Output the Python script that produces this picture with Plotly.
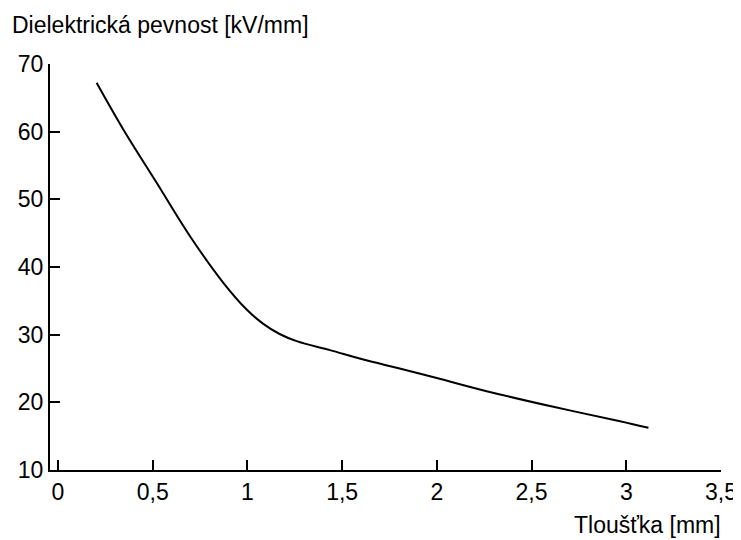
import plotly.graph_objects as go

# tloušťka [mm] a dielektrická pevnost [kV/mm]
thickness = [0.204, 0.345, 0.521, 0.697, 0.873, 0.996, 1.084, 1.170,
             1.260, 1.436, 1.612, 1.788, 1.964, 2.263, 2.615, 2.967, 3.117]
strength = [67.22, 60.32, 52.44, 44.55, 37.67, 33.72, 31.60, 30.10,
            29.04, 27.71, 26.33, 25.11, 23.86, 21.65, 19.34, 17.21, 16.24]

x_ticks = [0, 0.5, 1, 1.5, 2, 2.5, 3, 3.5]
x_labels = ["0", "0,5", "1", "1,5", "2", "2,5", "3", "3,5"]
y_ticks = [10, 20, 30, 40, 50, 60, 70]
y_labels = ["10", "20", "30", "40", "50", "60", "70"]

font = dict(family="Liberation Sans, Arial, sans-serif", size=23, color="black")

fig = go.Figure()
fig.add_trace(go.Scatter(x=thickness, y=strength, mode="lines",
                         line=dict(color="black", width=2, shape="spline"),
                         showlegend=False))

# the page body has an 8px margin, so the figure is made 8px smaller
fig.update_layout(
    width=733, height=532,
    margin=dict(l=42, r=20, t=56, b=70),
    plot_bgcolor="white", paper_bgcolor="white",
    font=font,
    xaxis=dict(range=[-0.042, 3.5], tickvals=x_ticks, ticktext=x_labels,
               showline=True, linecolor="black", linewidth=2,
               ticks="inside", ticklen=10, tickwidth=2, tickcolor="black",
               showgrid=False, zeroline=False, tickfont=font, automargin=False),
    yaxis=dict(range=[10, 70], tickvals=y_ticks, ticktext=y_labels,
               showline=True, linecolor="black", linewidth=2,
               ticks="inside", ticklen=10, tickwidth=2, tickcolor="black",
               showgrid=False, zeroline=False, tickfont=font, automargin=False),
    annotations=[
        dict(text="Dielektrická pevnost [kV/mm]", xref="paper", yref="paper",
             x=0, y=1, xanchor="left", yanchor="middle",
             xshift=-40, yshift=39, showarrow=False, font=font),
        dict(text="Tloušťka [mm]", xref="paper", yref="paper",
             x=1, y=0, xanchor="right", yanchor="middle",
             xshift=2, yshift=-55, showarrow=False, font=font),
    ],
)

fig.write_html("out.html")
